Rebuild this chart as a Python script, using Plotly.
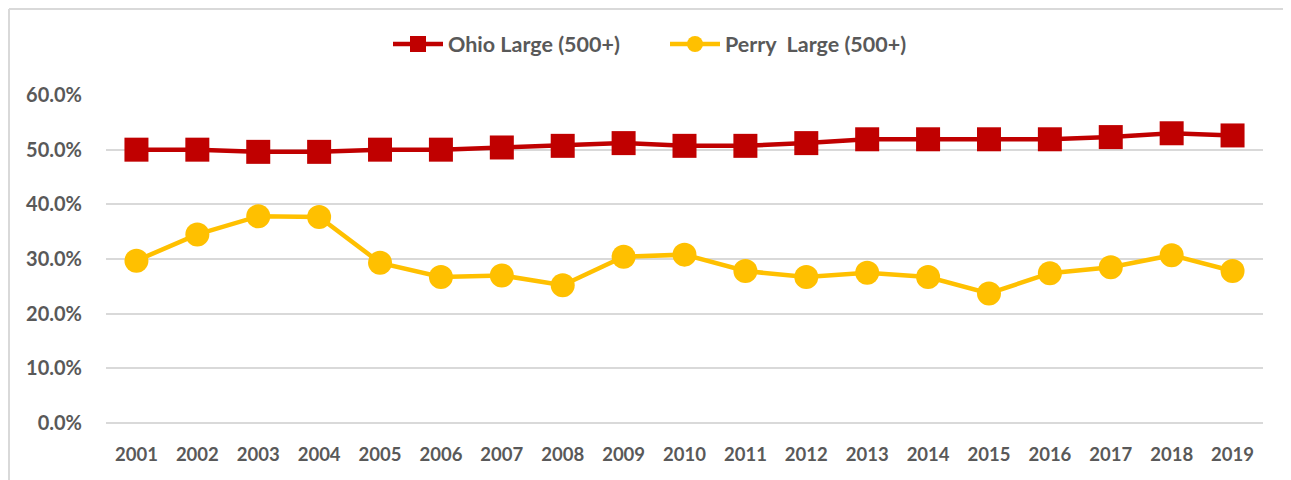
import plotly.graph_objects as go

years = [str(y) for y in range(2001, 2020)]
ohio_large = [50.0, 50.0, 49.6, 49.6, 50.0, 50.0, 50.4, 50.7, 51.2, 50.7, 50.7, 51.2, 51.9, 51.9, 51.9, 51.9, 52.3, 53.0, 52.6]
perry_large = [29.7, 34.5, 37.8, 37.7, 29.3, 26.7, 27.0, 25.2, 30.4, 30.8, 27.8, 26.7, 27.5, 26.7, 23.7, 27.4, 28.5, 30.7, 27.8]
y_ticks = [0, 10, 20, 30, 40, 50, 60]

ohio_pct = [v / 100 for v in ohio_large]
perry_pct = [v / 100 for v in perry_large]

FONT = "Lato"
GRAY = "#595959"

# page has an 8px body margin; figure is sized to fit inside the window
W, H = 1283, 472
ML, MR, MT, MB = 98, 28, 87, 57
pw, ph = W - ML - MR, H - MT - MB

fig = go.Figure()
fig.add_trace(go.Scatter(
    x=years, y=ohio_pct, name="Ohio Large (500+)", mode="lines+markers",
    line=dict(color="#C00000", width=4.5),
    marker=dict(symbol="square", size=24, color="#C00000"),
))
fig.add_trace(go.Scatter(
    x=years, y=perry_pct, name="Perry\u00a0\u00a0Large (500+)", mode="lines+markers",
    line=dict(color="#FFC000", width=4.5),
    marker=dict(symbol="circle", size=24, color="#FFC000"),
))

fig.update_layout(
    width=W, height=H,
    margin=dict(l=ML, r=MR, t=MT, b=MB, pad=0),
    paper_bgcolor="white", plot_bgcolor="white",
    font=dict(family=FONT, color=GRAY, size=18),
    showlegend=True,
    legend=dict(orientation="h", x=(388 - 8 - ML) / pw, xanchor="left",
                y=1 + (95 - 44) / ph, yanchor="middle",
                font=dict(family=FONT, size=21.5, color=GRAY, weight="bold"),
                itemwidth=50, entrywidth=212, traceorder="normal"),
    xaxis=dict(type="category", showgrid=False, showline=False, ticks="",
               ticklabelstandoff=18,
               tickfont=dict(family=FONT, size=18.5, color=GRAY, weight="bold"),
               range=[-0.5, len(years) - 0.5]),
    yaxis=dict(range=[0, 0.6], tickvals=[v / 100 for v in y_ticks],
               ticktext=[f"{v:.1f}%" for v in y_ticks],
               showgrid=True, gridcolor="#D9D9D9", gridwidth=1.5,
               zeroline=True, zerolinecolor="#D9D9D9", zerolinewidth=1.5,
               showline=False, ticks="", ticklabelstandoff=23,
               tickfont=dict(family=FONT, size=20, color=GRAY, weight="bold")),
)

# outer chart border (light gray): top and left edges visible
fig.add_shape(type="line", xref="paper", yref="paper",
              x0=-ML / pw + 1 / pw, x1=(W - ML) / pw,
              y0=1 + (MT - 1) / ph, y1=1 + (MT - 1) / ph,
              line=dict(color="#D9D9D9", width=2), layer="below")
fig.add_shape(type="line", xref="paper", yref="paper",
              x0=-ML / pw + 1 / pw, x1=-ML / pw + 1 / pw,
              y0=-MB / ph, y1=1 + (MT - 1) / ph,
              line=dict(color="#D9D9D9", width=2), layer="below")

fig.write_html("out.html")
